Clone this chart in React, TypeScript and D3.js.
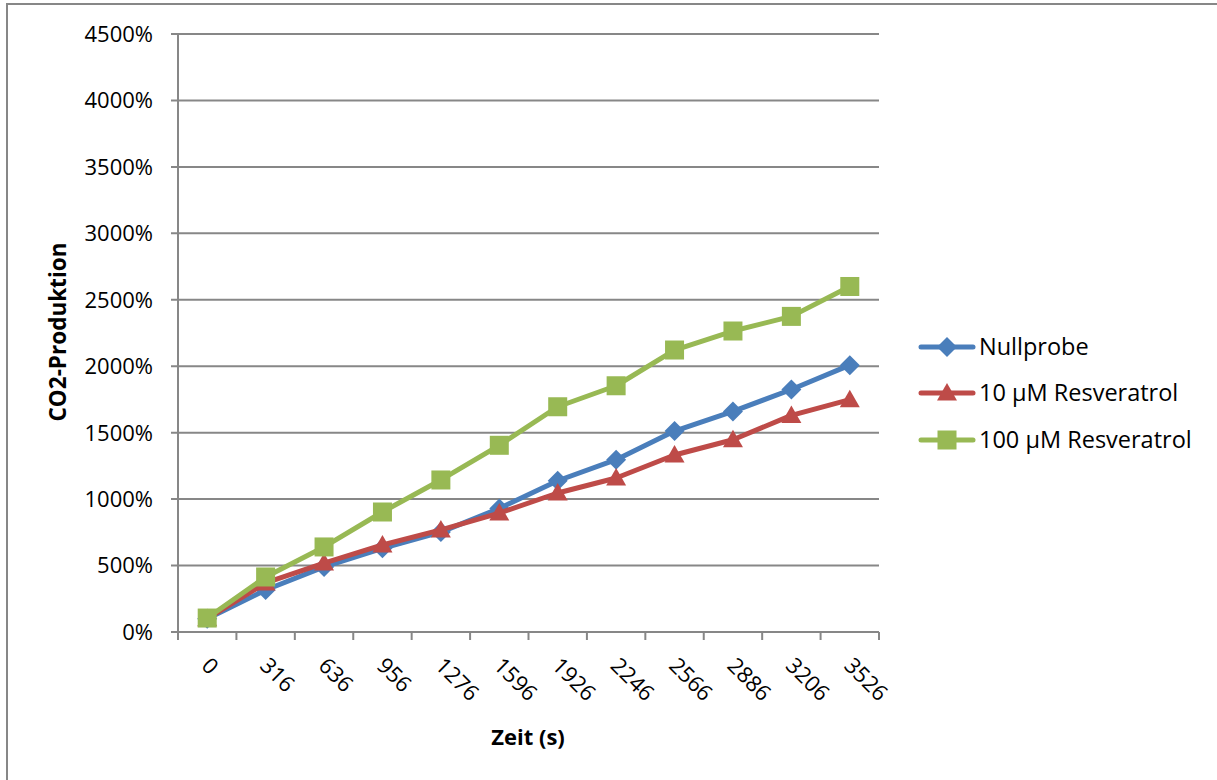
import React from "react";
import * as d3 from "d3";

const categories = ["0", "316", "636", "956", "1276", "1596", "1926", "2246", "2566", "2886", "3206", "3526"];
const nullprobe = [100, 316, 490, 630, 752, 930, 1138, 1297, 1512, 1660, 1825, 2008];
const resv10 = [100, 369, 519, 655, 768, 895, 1046, 1159, 1332, 1447, 1630, 1748];
const resv100 = [105, 414, 640, 903, 1144, 1405, 1695, 1853, 2122, 2265, 2375, 2600];
const yTicks = [0, 500, 1000, 1500, 2000, 2500, 3000, 3500, 4000, 4500];
const seriesNames = ["Nullprobe", "10 µM Resveratrol", "100 µM Resveratrol"];

const W = 1217, H = 780;
const left = 178, right = 879, top = 34, bottom = 632;
const colors = ["#4A7EBB", "#BE4B48", "#98B954"];
const font = "'Open Sans', sans-serif";

function Marker({ kind, x, y, color }: { kind: number; x: number; y: number; color: string }) {
  if (kind === 0) {
    const s = 10;
    return <path d={`M${x},${y - s}L${x + s},${y}L${x},${y + s}L${x - s},${y}Z`} fill={color} />;
  }
  if (kind === 1) {
    const s = 10;
    return <path d={`M${x},${y - s}L${x + s},${y + s * 0.75}L${x - s},${y + s * 0.75}Z`} fill={color} />;
  }
  const s = 9.5;
  return <rect x={x - s} y={y - s} width={2 * s} height={2 * s} fill={color} />;
}

export default function App() {
  const x = d3.scaleBand<string>().domain(categories).range([left, right]);
  const y = d3.scaleLinear().domain([0, 4500]).range([bottom, top]);
  const cx = (c: string) => (x(c) as number) + x.bandwidth() / 2;
  const data = [nullprobe, resv10, resv100];
  const line = d3
    .line<number>()
    .x((_, i) => cx(categories[i]))
    .y((v) => y(v));
  const fmt = (v: number) => `${v}%`;
  const tickXs = categories.map((c) => x(c) as number).concat([right]);
  const legendY = [347, 393, 440];

  return (
    <svg width={W} height={H} style={{ position: "absolute", left: 0, top: 0 }}>
      <rect x={0} y={0} width={W} height={H} fill="#fff" />
      <rect x={7} y={4} width={W + 10} height={H + 10} fill="none" stroke="#878787" strokeWidth={2} />
      {yTicks.map((t) => (
        <g key={t}>
          <line x1={171} x2={right} y1={y(t)} y2={y(t)} stroke="#878787" strokeWidth={2} />
          <text x={153} y={y(t)} dy="0.36em" textAnchor="end" fontFamily={font} fontSize={22} fill="#000">
            {fmt(t)}
          </text>
        </g>
      ))}
      <line x1={left} x2={left} y1={top} y2={bottom} stroke="#878787" strokeWidth={2} />
      {tickXs.map((tx, i) => (
        <line key={i} x1={tx} x2={tx} y1={bottom} y2={bottom + 8} stroke="#878787" strokeWidth={2} />
      ))}
      {categories.map((c) => (
        <text
          key={c}
          transform={`translate(${cx(c) + 4},${656}) rotate(45)`}
          textAnchor="start"
          dy="0.7em"
          fontFamily={font}
          fontSize={22}
          fill="#000"
        >
          {c}
        </text>
      ))}
      {data.map((d, si) => (
        <g key={si}>
          <path d={line(d) as string} fill="none" stroke={colors[si]} strokeWidth={5} strokeLinejoin="round" strokeLinecap="round" />
          {d.map((v, i) => (
            <Marker key={i} kind={si} x={cx(categories[i])} y={y(v)} color={colors[si]} />
          ))}
        </g>
      ))}
      <text
        transform={`translate(66,332) rotate(-90)`}
        textAnchor="middle"
        fontFamily={font}
        fontWeight="bold"
        fontSize={22.5}
        fill="#000"
      >
        CO2-Produktion
      </text>
      <text x={528} y={745} textAnchor="middle" fontFamily={font} fontWeight="bold" fontSize={22} fill="#000">
        Zeit (s)
      </text>
      {seriesNames.map((n, i) => (
        <g key={n}>
          <line x1={921} x2={973} y1={legendY[i]} y2={legendY[i]} stroke={colors[i]} strokeWidth={5} strokeLinecap="round" />
          <Marker kind={i} x={947} y={legendY[i]} color={colors[i]} />
          <text x={979} y={legendY[i]} dy="0.36em" fontFamily={font} fontSize={23.5} fill="#000">
            {n}
          </text>
        </g>
      ))}
    </svg>
  );
}
